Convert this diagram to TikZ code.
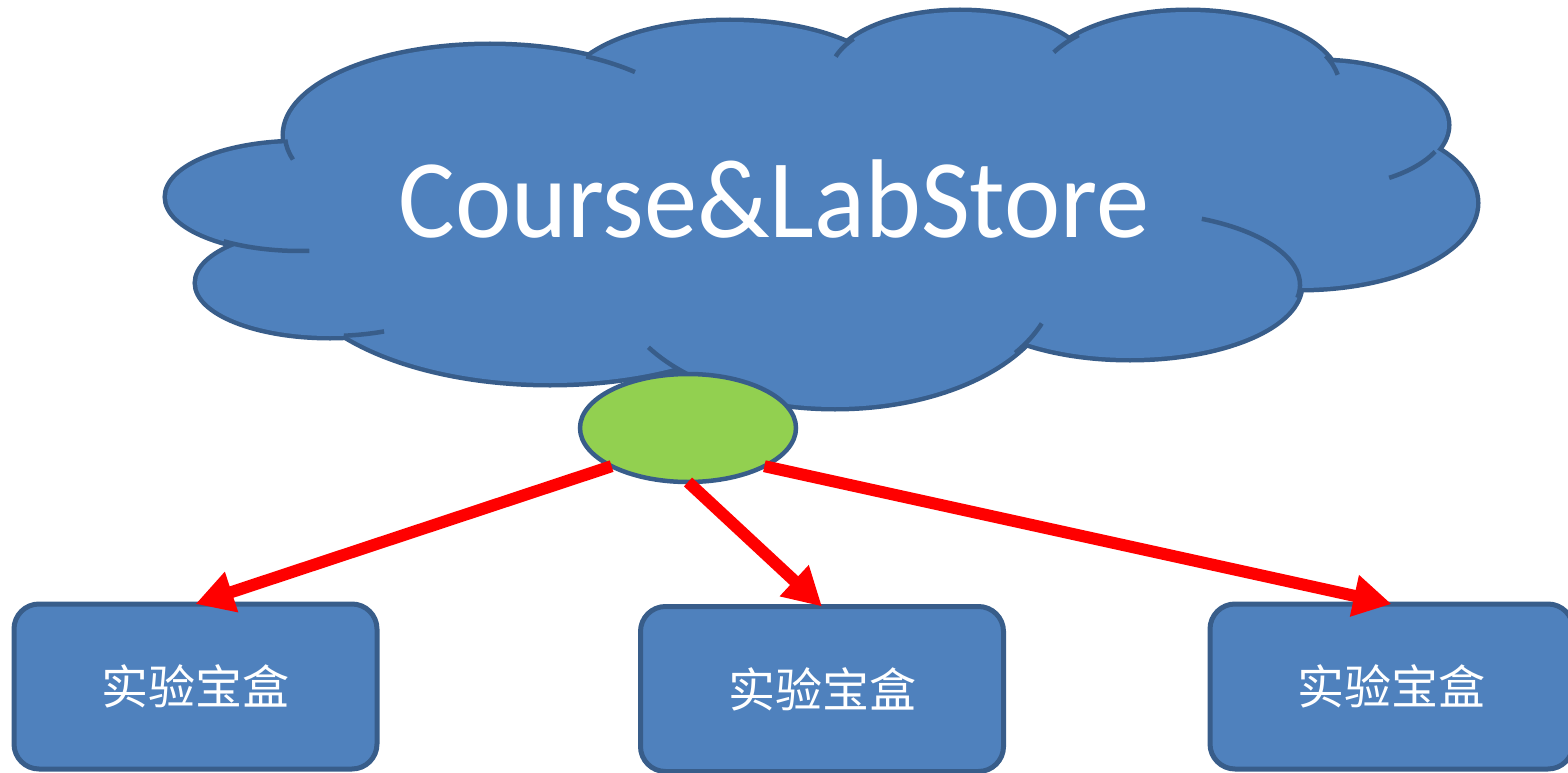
\documentclass[tikz,border=0pt]{standalone}
\usepackage{fontspec}
\setmainfont{Carlito}
\newfontfamily\cloudfont[FakeStretch=0.95]{Carlito}
\newfontfamily\cjk{Noto Sans CJK SC}
\usetikzlibrary{arrows.meta,shapes.geometric}
\definecolor{edge}{HTML}{385D8A}
\definecolor{cfill}{HTML}{4F81BD}
\definecolor{leaf}{HTML}{92D050}
\tikzset{
  boxnode/.style={draw=edge, line width=5pt, fill=cfill, rounded corners=25pt,
    minimum width=363pt, minimum height=165pt, inner sep=0pt, outer sep=0pt,
    text=white, font=\cjk\fontsize{47}{47}\selectfont},
  hub/.style={ellipse, draw=edge, line width=4.5pt, fill=leaf,
    minimum width=216pt, minimum height=108pt, inner sep=0pt, outer sep=0pt},
  redarrow/.style={draw=red, line width=12pt, -{Triangle[length=38pt,width=40pt]}},
  crease/.style={draw=edge, line width=4.5pt}
}
\begin{document}
\begin{tikzpicture}[x=1pt,y=1pt]
\useasboundingbox (0,0) rectangle (1568,-773);
% cloud: outline pass (double width, inner half hidden by refill)
\foreach \cx/\cy/\rx/\ry in {300/197/133/54, 330/283/133/53, 550/260/259/123,
  490/135/205/89, 730/95/165/73, 960/75/130/63, 1188/88/152/76,
  1320/125/127/63, 1300/203/176/85, 1130/285/170/73, 835/280/220/127}
  \filldraw[draw=edge, fill=cfill, line width=9pt] (\cx,-\cy) ellipse [x radius=\rx, y radius=\ry];
\foreach \cx/\cy/\rx/\ry in {300/197/133/54, 330/283/133/53, 550/260/259/123,
  490/135/205/89, 730/95/165/73, 960/75/130/63, 1188/88/152/76,
  1320/125/127/63, 1300/203/176/85, 1130/285/170/73, 835/280/220/127}
  \fill[cfill] (\cx,-\cy) ellipse [x radius=\rx, y radius=\ry];
\fill[cfill] (330,-170) -- (500,-90) -- (740,-70) -- (960,-60) -- (1190,-70)
  -- (1320,-130) -- (1350,-210) -- (1200,-280) -- (1000,-330) -- (820,-360)
  -- (550,-340) -- (360,-290) -- (280,-220) -- cycle;
% creases
\foreach \cx/\cy/\rx/\ry/\a/\b in {490/135/205/89/183/196, 490/135/205/89/62/45,
  960/75/130/63/145/163, 1188/88/152/76/136/152, 1188/88/152/76/25/10,
  1320/125/127/63/-25/-57, 1130/285/170/73/65/-10, 835/280/220/127/-35/-20,
  835/280/220/127/228/212, 330/283/133/53/-84/-66, 300/197/133/54/-125/-86}
  \draw[crease] (\cx,-\cy) ++(\a:\rx pt and \ry pt)
    arc[start angle=\a, end angle=\b, x radius=\rx pt, y radius=\ry pt];
\node[anchor=base, text=white, font=\cloudfont\fontsize{112}{112}\selectfont, inner sep=0pt]
  (cloud) at (774,-237) {Course\&LabStore};
% hub
\node[hub] (g) at (688,-428) {};
% boxes
\node[boxnode] (b1) at (195.5,-686.5) {实验宝盒};
\node[boxnode] (b2) at (822,-689) {实验宝盒};
\node[boxnode] (b3) at (1391.5,-686.5) {实验宝盒};
% arrows
\draw[redarrow] (g.south west) -- (b1.north);
\draw[redarrow] (g.south) -- (b2.north);
\draw[redarrow] (g.south east) -- (b3.north);
\end{tikzpicture}
\end{document}
